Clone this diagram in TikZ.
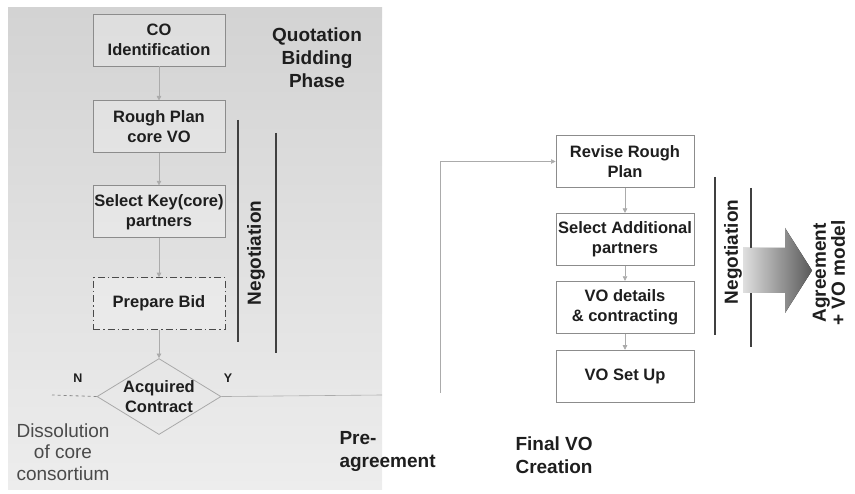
\documentclass[tikz,border=0pt]{standalone}
\usepackage{fontspec}
\setmainfont{Liberation Sans}
\usepackage{tikz}
\usetikzlibrary{
  shapes.geometric,
  arrows.meta,
  positioning
}
\definecolor{BoxLine}{HTML}{8C8C8C}
\definecolor{FlowLine}{HTML}{ABABAB}
\definecolor{PanelTop}{HTML}{D3D3D3}
\definecolor{PanelBot}{HTML}{EDEDED}
\definecolor{InkDark}{HTML}{1E1E1E}
\definecolor{InkSoft}{HTML}{4A4A4A}
\tikzset{
  % Process box: fixed size
  task/.style={
    rectangle, draw=BoxLine, line width=0.9pt,
    fill=white, fill opacity=0.25, text opacity=1,
    minimum width=#1, minimum height=52pt, inner xsep=1pt,
    align=center, text=InkDark,
    font=\fontsize{16.5}{20}\selectfont\bfseries
  },
  task/.default=132pt,
  % Decision diamond
  decide/.style={
    diamond, aspect=1.63, draw=BoxLine!75, line width=0.8pt,
    minimum width=124pt, minimum height=76pt, inner sep=-1pt,
    align=center, text=InkDark,
    font=\fontsize{16.5}{20}\selectfont\bfseries
  },
  % Thin flow arrow
  flow/.style={
    -{Triangle[length=4.5pt,width=4.5pt]},
    line width=0.6pt, color=FlowLine
  },
  % Phase heading
  phase/.style={align=left, text=InkDark, font=\fontsize{19}{23}\selectfont\bfseries},
  % Vertical negotiation bar
  negbar/.style={line width=1.3pt, color=InkDark!85},
  % Rotated negotiation label
  negtext/.style={rotate=90, text=InkDark, font=\fontsize{19}{22}\selectfont\bfseries},
  % Branch letter
  branch/.style={text=InkDark, font=\fontsize{12.5}{14}\selectfont\bfseries}
}
\begin{document}
\begin{tikzpicture}[x=1pt, y=-1pt]
  \useasboundingbox (0,0) rectangle (855,494);
  % shaded panel behind the bidding phase
  \fill[top color=PanelTop, bottom color=PanelBot] (8,8) rectangle (382,490);

  % quotation bidding phase
  \node[task]                            (coid)   at (159,40) {CO\\Identification};
  \node[task, below=34pt of coid]        (rough)  {Rough Plan\\core VO};
  \node[task, below=32pt of rough]       (keysel) {Select Key(core)\\partners};
  \node[task, below=39pt of keysel, draw=InkSoft,
        dash pattern=on 7pt off 3pt on 1.5pt off 3pt] (bid) {Prepare Bid};
  \node[decide, below=28pt of bid]       (acq)    {Acquired\\Contract};
  \node[phase, align=center]             (quote)  at (317,58) {Quotation\\Bidding\\Phase};
  \node[branch]                          (nlbl)   at (78,378)  {N};
  \node[branch]                          (ylbl)   at (228,378) {Y};
  \node[align=center, text=InkSoft, font=\fontsize{19}{21.5}\selectfont]
                                         (dissol) at (63,452) {Dissolution\\of core\\consortium};
  \node[negtext]                         (negL)   at (256,253) {Negotiation};
  \coordinate (nend) at (52,395);
  \coordinate (yend) at (382,395);

  \draw[flow] (coid)   -- (rough);
  \draw[flow] (rough)  -- (keysel);
  \draw[flow] (keysel) -- (bid);
  \draw[flow] (bid)    -- (acq);
  \draw[FlowLine!80!black, line width=0.8pt, dashed] (acq.west) -- (nend);
  \draw[FlowLine, line width=0.6pt] (acq.east) -- (yend);
  \draw[negbar] (238,120) -- (238,342);
  \draw[negbar] (276,133) -- (276,353);

  % pre-agreement
  \node[phase, anchor=west]              (preagr) at (336,451) {Pre-\\agreement};

  % final VO creation
  \node[task=138pt]                      (revise) at (625,161.5) {Revise Rough\\Plan};
  \node[task=138pt, below=25pt of revise] (addsel) {Select Additional\\partners};
  \node[task=138pt, below=15pt of addsel] (vodet)  {VO details\\\& contracting};
  \node[task=138pt, below=16pt of vodet]  (setup)  {VO Set Up};
  \node[phase, anchor=west]              (final)  at (512,455) {Final VO\\Creation};
  \node[negtext]                         (negR)   at (733,252) {Negotiation};
  \node[negtext, align=center, font=\fontsize{19}{19}\selectfont\bfseries]
                                         (agree)  at (829,273) {Agreement\\+ VO model};
  \coordinate (fbstart) at (440,393);

  \draw[flow] (fbstart) |- (revise.west);
  \draw[flow] (revise) -- (addsel);
  \draw[flow] (addsel) -- (vodet);
  \draw[flow] (vodet)  -- (setup);
  \draw[negbar] (715,177) -- (715,335);
  \draw[negbar] (751,188) -- (751,347);
  \fill[left color=gray!25, right color=gray!70!black]
    (743,248) -- (785,248) -- (785,228) -- (812,270.5)
    -- (785,313) -- (785,293) -- (743,293) -- cycle;
\end{tikzpicture}
\end{document}
